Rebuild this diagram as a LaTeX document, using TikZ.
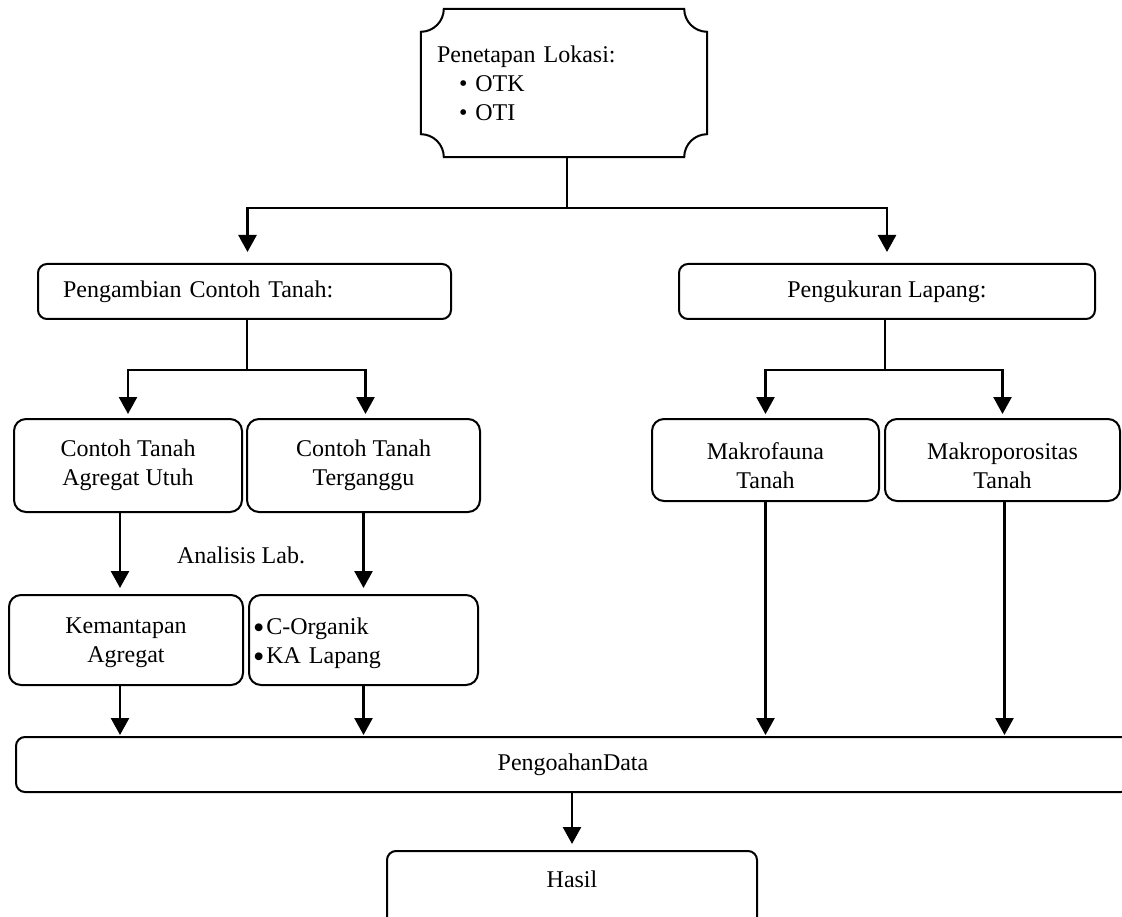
\documentclass[tikz,border=0pt]{standalone}
\usepackage{fontspec}
\setmainfont{Liberation Serif}
\usetikzlibrary{arrows.meta}
\newcommand{\bigbul}{\smash{\raisebox{-3.6pt}{\scalebox{1.35}{•}}}\hspace{2pt}}
\begin{document}
\begin{tikzpicture}[x=1pt,y=-1pt,
  txt/.style={font=\fontsize{24}{29}\selectfont, inner sep=0pt},
  box/.style={txt, draw, line width=2pt, rounded corners=9pt, align=center},
  ln/.style={line width=2pt},
  arr/.style={line width=2.6pt, -{Triangle[length=17pt,width=18pt]}}]
\useasboundingbox (0,0) rectangle (1122,917);
\clip (0,0) rectangle (1122,917);

% top plaque
\node[txt, align=left, text width=254pt, minimum width=286pt, minimum height=148pt] (lok) at (564,83)
  {Penetapan Lokasi:\\\hspace*{22pt}•\hspace{8pt}OTK\\\hspace*{22pt}•\hspace{8pt}OTI};
\draw[ln]
  ([xshift=23pt]lok.north west) -- ([xshift=-23pt]lok.north east)
  .. controls ([xshift=-23pt,yshift=-12.7pt]lok.north east) and ([xshift=-12.7pt,yshift=-23pt]lok.north east) .. ([yshift=-23pt]lok.north east)
  -- ([yshift=23pt]lok.south east)
  .. controls ([xshift=-12.7pt,yshift=23pt]lok.south east) and ([xshift=-23pt,yshift=12.7pt]lok.south east) .. ([xshift=-23pt]lok.south east)
  -- ([xshift=23pt]lok.south west)
  .. controls ([xshift=23pt,yshift=12.7pt]lok.south west) and ([xshift=12.7pt,yshift=23pt]lok.south west) .. ([yshift=23pt]lok.south west)
  -- ([yshift=-23pt]lok.north west)
  .. controls ([xshift=12.7pt,yshift=-23pt]lok.north west) and ([xshift=23pt,yshift=-12.7pt]lok.north west) .. ([xshift=23pt]lok.north west)
  -- cycle;

% second level
\node[box, align=left, text width=363pt, inner xsep=25pt, minimum height=55pt] (peng) at (244.5,291.5) {Pengambian Contoh Tanah:};
\node[box, minimum width=416pt, minimum height=55pt] (ukur) at (887,291.5) {Pengukuran Lapang:};

% third level
\node[box, minimum width=228pt, minimum height=93pt, rounded corners=12pt] (cA) at (128,465.5) {Contoh Tanah\\Agregat Utuh};
\node[box, minimum width=233pt, minimum height=93pt, rounded corners=12pt] (cT) at (363.5,465.5) {Contoh Tanah\\Terganggu};
\node[box, minimum width=227pt, minimum height=82pt, rounded corners=12pt] (mf) at (765.5,460) {\rule{0pt}{28pt}Makrofauna\\Tanah};
\node[box, minimum width=235pt, minimum height=82pt, rounded corners=12pt] (mp) at (1002.5,460) {\rule{0pt}{28pt}Makroporositas\\Tanah};

% fourth level
\node[box, minimum width=234pt, minimum height=90pt, rounded corners=12pt] (km) at (126,640) {\rule{0pt}{21pt}Kemantapan\\Agregat};
\node[box, align=left, text width=221pt, inner xsep=4pt, minimum height=90pt, rounded corners=12pt] (co) at (363.5,640) {\rule{0pt}{23pt}\bigbul C-Organik\\\bigbul KA Lapang};
\node[txt] (lab) at (241,555) {Analisis Lab.};

% data and result
\node[box, minimum width=1114pt, minimum height=55pt] (data) at (573,764.5) {PengoahanData};
\node[box, minimum width=370pt, minimum height=90pt, text depth=34pt] (hasil) at (572,896) {Hasil};

% connectors
\coordinate (h1) at (567,208);
\coordinate (h2) at (247,370);
\coordinate (h3) at (885,370);
\draw[ln] ([xshift=3pt]lok.south) -- (h1);
\draw[arr, shorten >=11pt] (h1) -| ([xshift=3pt]peng.north);
\draw[arr, shorten >=11pt] (h1) -| (ukur.north);
\draw[ln] (peng.south -| h2) -- (h2);
\draw[arr, shorten >=4pt] (h2) -| (cA.north);
\draw[arr, shorten >=4pt] (h2) -| ([xshift=2pt]cT.north);
\draw[ln] (ukur.south -| h3) -- (h3);
\draw[arr, shorten >=4pt] (h3) -| (mf.north);
\draw[arr, shorten >=4pt] (h3) -| (mp.north);

\draw[arr, shorten >=6pt] ([xshift=-8pt]cA.south) -- ([xshift=-6pt]km.north);
\draw[arr, shorten >=6pt] (cT.south) -- (co.north);
\draw[arr, shorten >=1pt] ([xshift=-6pt]km.south) -- ([xshift=-6pt]km.south |- data.north);
\draw[arr, shorten >=1pt] (co.south) -- (co.south |- data.north);
\draw[arr, shorten >=1pt] (mf.south) -- (mf.south |- data.north);
\draw[arr, shorten >=1pt] ([xshift=2pt]mp.south) -- ([xshift=2pt]mp.south |- data.north);
\draw[arr, shorten >=6pt] (data.south -| hasil.north) -- (hasil.north);
\end{tikzpicture}
\end{document}
